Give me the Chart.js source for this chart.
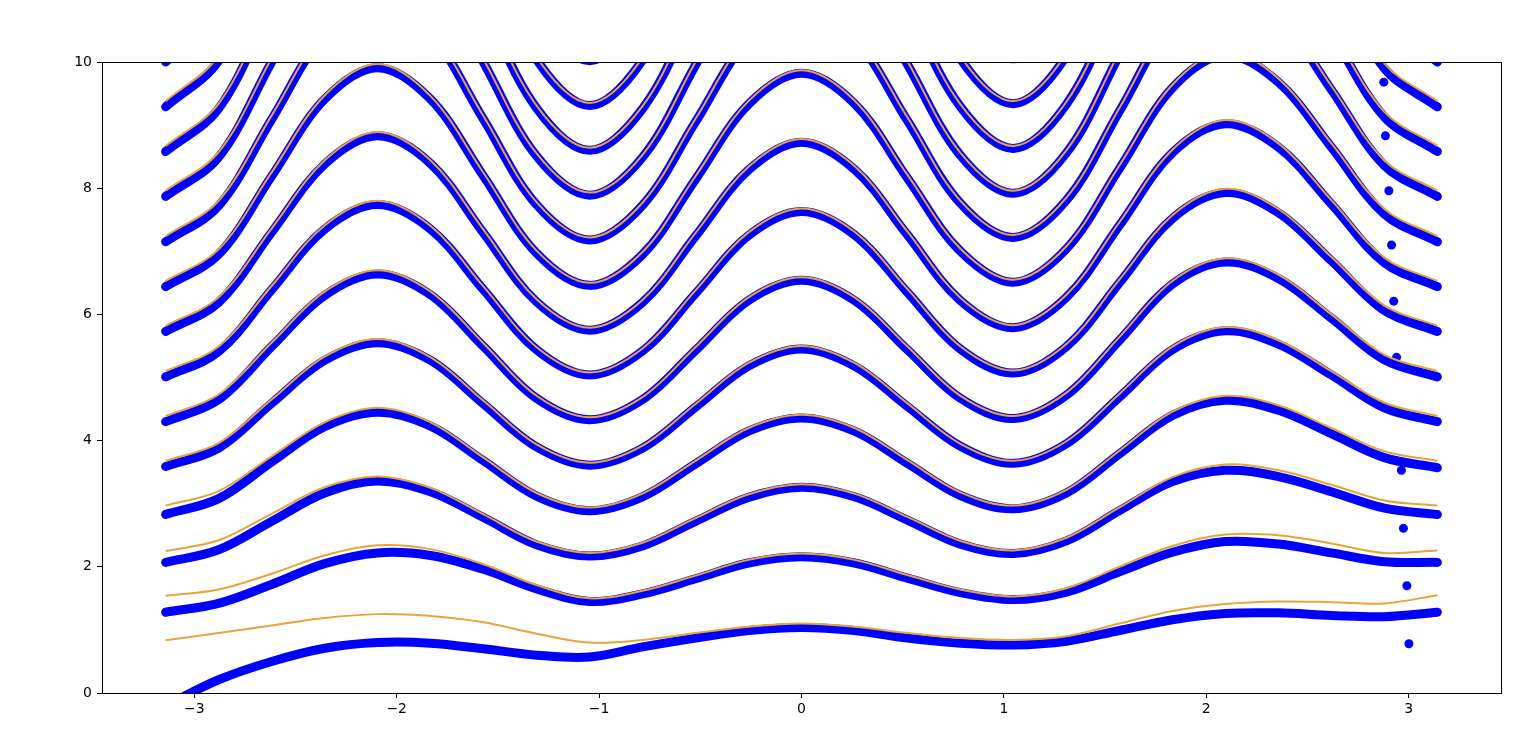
<!DOCTYPE html>
<html>
<head>
<meta charset="utf-8">
<title>Bands</title>
<script src="https://cdn.jsdelivr.net/npm/chart.js@4.4.1/dist/chart.umd.min.js"></script>
<style>
    html, body { margin: 0; padding: 0; background: #ffffff; }
    #bandChartCanvas { display: block; }
</style>
</head>
<body>
<canvas id="bandChartCanvas" width="1536" height="754"></canvas>
<script>
// _+_+_+_+_+_+_+_+_+_+ DATA _+_+_+_+_+_+_+_+_+_+

// sample positions, -pi .. pi in steps of pi/12
const xGrid = [-3.1416, -2.8798, -2.6180, -2.3562, -2.0944, -1.8326, -1.5708, -1.3090, -1.0472, -0.7854, -0.5236, -0.2618, 0,
    0.2618, 0.5236, 0.7854, 1.0472, 1.3090, 1.5708, 1.8326, 2.0944, 2.3562, 2.6180, 2.8798, 3.1416]

const xTicks = [-3, -2, -1, 0, 1, 2, 3]
const yTicks = [0, 2, 4, 6, 8, 10]

// orange lines
const orange1 = [0.835, 0.95, 1.07, 1.19, 1.25, 1.22, 1.12, 0.94, 0.80, 0.84, 0.95, 1.05, 1.10, 1.05, 0.95, 0.87, 0.84, 0.90, 1.10, 1.30, 1.41, 1.45, 1.44, 1.42, 1.55]
const orange2 = [1.54, 1.64, 1.89, 2.18, 2.34, 2.28, 2.04, 1.71, 1.50, 1.62, 1.86, 2.11, 2.21, 2.11, 1.87, 1.64, 1.53, 1.66, 2.00, 2.33, 2.51, 2.50, 2.37, 2.22, 2.26]
const orange3 = [2.25, 2.42, 2.84, 3.26, 3.43, 3.25, 2.83, 2.40, 2.22, 2.38, 2.77, 3.15, 3.31, 3.16, 2.79, 2.41, 2.26, 2.46, 2.94, 3.42, 3.62, 3.53, 3.30, 3.05, 2.97]
const orange4 = [2.97, 3.20, 3.75, 4.29, 4.52, 4.29, 3.73, 3.17, 2.94, 3.16, 3.68, 4.20, 4.41, 4.20, 3.69, 3.18, 2.97, 3.22, 3.84, 4.46, 4.71, 4.56, 4.20, 3.83, 3.68]
const orange5 = [3.68, 3.96, 4.65, 5.33, 5.61, 5.32, 4.63, 3.94, 3.65, 3.92, 4.58, 5.23, 5.50, 5.23, 4.59, 3.95, 3.68, 3.99, 4.74, 5.49, 5.80, 5.59, 5.10, 4.60, 4.39]
const orange6 = [4.39, 4.73, 5.55, 6.36, 6.70, 6.36, 5.54, 4.71, 4.37, 4.69, 5.48, 6.27, 6.59, 6.27, 5.49, 4.71, 4.39, 4.76, 5.64, 6.53, 6.89, 6.63, 6.00, 5.36, 5.10]
const orange7 = [5.10, 5.49, 6.45, 7.41, 7.80, 7.40, 6.44, 5.48, 5.08, 5.46, 6.38, 7.30, 7.68, 7.31, 6.40, 5.49, 5.11, 5.53, 6.55, 7.57, 7.99, 7.67, 6.91, 6.14, 5.82]
const orange8 = [5.82, 6.27, 7.36, 8.44, 8.89, 8.44, 7.34, 6.24, 5.79, 6.23, 7.29, 8.34, 8.78, 8.35, 7.31, 6.26, 5.83, 6.31, 7.46, 8.61, 9.08, 8.71, 7.81, 6.90, 6.53]
const orange9 = [6.53, 7.03, 8.25, 9.47, 9.97, 9.46, 8.24, 7.01, 6.50, 6.99, 8.19, 9.38, 9.87, 9.39, 8.21, 7.04, 6.55, 7.08, 8.36, 9.64, 10.17, 9.74, 8.71, 7.67, 7.24]
const orange10 = [7.24, 7.80, 9.15, 10.50, 11.06, 10.50, 9.14, 7.78, 7.22, 7.77, 9.10, 10.42, 10.97, 10.43, 9.12, 7.80, 7.26, 7.85, 9.27, 10.69, 11.27, 10.79, 9.62, 8.44, 7.96]
const orange11 = [7.96, 8.57, 10.06, 11.54, 12.15, 11.53, 10.04, 8.55, 7.93, 8.53, 10.00, 11.46, 12.06, 11.46, 10.01, 8.56, 7.96, 8.60, 10.16, 11.72, 12.36, 11.82, 10.52, 9.21, 8.67]
const orange12 = [8.67, 9.34, 10.96, 12.57, 13.24, 12.57, 10.94, 9.31, 8.64, 9.30, 10.90, 12.50, 13.16, 12.50, 10.92, 9.33, 8.67, 9.37, 11.07, 12.76, 13.46, 12.86, 11.42, 9.98, 9.38]
const orange13 = [9.38, 10.10, 11.86, 13.61, 14.33, 13.60, 11.84, 10.08, 9.35, 10.07, 11.80, 13.54, 14.25, 13.54, 11.82, 10.09, 9.38, 10.14, 11.97, 13.80, 14.55, 13.90, 12.32, 10.74, 10.09]
const orange14 = [10.09, 10.87, 12.76, 14.64, 15.42, 14.64, 12.74, 10.84, 10.06, 10.84, 12.71, 14.58, 15.35, 14.59, 12.72, 10.85, 10.09, 10.89, 12.87, 14.85, 15.64, 14.94, 13.22, 11.50, 10.80]

// blue dotted bands
const blue1 = [-0.20, 0.21, 0.50, 0.71, 0.80, 0.79, 0.70, 0.60, 0.57, 0.73, 0.87, 0.99, 1.04, 0.99, 0.87, 0.79, 0.76, 0.82, 0.99, 1.16, 1.26, 1.27, 1.23, 1.21, 1.28]
const blue2 = [1.28, 1.42, 1.72, 2.05, 2.22, 2.18, 1.96, 1.65, 1.45, 1.57, 1.81, 2.06, 2.16, 2.06, 1.82, 1.59, 1.48, 1.60, 1.92, 2.23, 2.40, 2.36, 2.22, 2.08, 2.07]
const blue3 = [2.07, 2.27, 2.72, 3.17, 3.36, 3.19, 2.78, 2.35, 2.17, 2.33, 2.72, 3.10, 3.26, 3.11, 2.74, 2.36, 2.21, 2.41, 2.89, 3.35, 3.53, 3.43, 3.19, 2.93, 2.83]
const blue4 = [2.83, 3.08, 3.66, 4.22, 4.45, 4.23, 3.68, 3.12, 2.89, 3.11, 3.63, 4.15, 4.36, 4.15, 3.64, 3.13, 2.92, 3.17, 3.79, 4.40, 4.64, 4.48, 4.11, 3.73, 3.57]
const blue5 = [3.59, 3.88, 4.59, 5.27, 5.55, 5.27, 4.58, 3.90, 3.61, 3.88, 4.53, 5.18, 5.45, 5.18, 4.54, 3.91, 3.64, 3.95, 4.69, 5.44, 5.74, 5.53, 5.04, 4.52, 4.30]
const blue6 = [4.30, 4.65, 5.49, 6.30, 6.64, 6.31, 5.49, 4.67, 4.33, 4.65, 5.43, 6.22, 6.54, 6.22, 5.44, 4.67, 4.35, 4.72, 5.59, 6.48, 6.83, 6.57, 5.94, 5.28, 5.01]
const blue7 = [5.01, 5.41, 6.39, 7.35, 7.74, 7.35, 6.39, 5.44, 5.04, 5.42, 6.33, 7.25, 7.63, 7.26, 6.35, 5.45, 5.07, 5.49, 6.50, 7.52, 7.93, 7.61, 6.85, 6.06, 5.73]
const blue8 = [5.73, 6.19, 7.30, 8.38, 8.83, 8.39, 7.29, 6.20, 5.75, 6.19, 7.24, 8.29, 8.73, 8.30, 7.26, 6.22, 5.79, 6.27, 7.41, 8.56, 9.02, 8.65, 7.75, 6.82, 6.44]
const blue9 = [6.44, 6.95, 8.19, 9.41, 9.91, 9.41, 8.19, 6.97, 6.46, 6.95, 8.14, 9.33, 9.82, 9.34, 8.16, 7.00, 6.51, 7.04, 8.31, 9.59, 10.11, 9.68, 8.65, 7.59, 7.15]
const blue10 = [7.15, 7.72, 9.09, 10.44, 11.00, 10.45, 9.09, 7.74, 7.18, 7.73, 9.05, 10.37, 10.92, 10.38, 9.07, 7.76, 7.22, 7.81, 9.22, 10.64, 11.21, 10.73, 9.56, 8.36, 7.87]
const blue11 = [7.87, 8.49, 10.00, 11.48, 12.09, 11.48, 9.99, 8.51, 7.89, 8.49, 9.95, 11.41, 12.01, 11.41, 9.96, 8.52, 7.92, 8.56, 10.11, 11.67, 12.30, 11.76, 10.46, 9.13, 8.58]
const blue12 = [8.58, 9.26, 10.90, 12.51, 13.18, 12.52, 10.89, 9.27, 8.60, 9.26, 10.85, 12.45, 13.11, 12.45, 10.87, 9.29, 8.63, 9.33, 11.02, 12.71, 13.40, 12.80, 11.36, 9.90, 9.29]
const blue13 = [9.29, 10.02, 11.80, 13.55, 14.27, 13.55, 11.79, 10.04, 9.31, 10.03, 11.75, 13.49, 14.20, 13.49, 11.77, 10.05, 9.34, 10.10, 11.92, 13.75, 14.49, 13.84, 12.26, 10.66, 10.00]
const blue14 = [10.00, 10.79, 12.70, 14.58, 15.36, 14.59, 12.69, 10.80, 10.02, 10.80, 12.66, 14.53, 15.30, 14.54, 12.67, 10.81, 10.05, 10.85, 12.82, 14.80, 15.58, 14.88, 13.16, 11.42, 10.71]

// stray dots near the right edge
const strayX = [2.877, 2.885, 2.902, 2.915, 2.926, 2.940, 2.954, 2.964, 2.974, 2.991, 3.001]
const strayY = [9.68, 8.83, 7.96, 7.10, 6.21, 5.32, 4.45, 3.53, 2.61, 1.70, 0.78]

const orangeCurves = [orange1, orange2, orange3, orange4, orange5, orange6, orange7, orange8, orange9, orange10, orange11, orange12, orange13, orange14]
const blueCurves = [blue1, blue2, blue3, blue4, blue5, blue6, blue7, blue8, blue9, blue10, blue11, blue12, blue13, blue14]

const ORANGE = '#e8a33c'
const BLUE = '#0000ff'

function toPoints(values) {
    return xGrid.map((x, i) => ({ x: x, y: values[i] }))
}

// box around the plot, like matplotlib spines
const frameBox = {
    id: 'frameBox',
    afterDraw(chart) {
        const ctx = chart.ctx
        const a = chart.chartArea
        ctx.save()
        ctx.strokeStyle = '#000000'
        ctx.lineWidth = 1
        ctx.strokeRect(Math.round(a.left) + 0.5, Math.round(a.top) + 0.5, Math.round(a.right - a.left), Math.round(a.bottom - a.top))
        ctx.restore()
    }
}

// _+_+_+_+_+_+_+_+_+_+ BUILD DATASETS _+_+_+_+_+_+_+_+_+_+
let datasets = []

orangeCurves.forEach(c => {
    datasets.push({
        data: toPoints(c),
        showLine: true,
        borderColor: ORANGE,
        borderWidth: 2,
        pointRadius: 0,
        tension: 0.35,
        clip: 0,
        order: 0
    })
})

blueCurves.forEach(c => {
    datasets.push({
        data: toPoints(c),
        showLine: true,
        borderColor: BLUE,
        borderWidth: 9,
        borderCapStyle: 'round',
        borderJoinStyle: 'round',
        pointRadius: 0,
        tension: 0.35,
        clip: 0,
        order: 1
    })
})

datasets.push({
    data: strayX.map((x, i) => ({ x: x, y: strayY[i] })),
    showLine: false,
    pointRadius: 4.5,
    pointBackgroundColor: BLUE,
    pointBorderWidth: 0,
    clip: 0,
    order: 1
})

const tickFont = { family: 'DejaVu Sans', size: 14 }

// _+_+_+_+_+_+_+_+_+_+ CHART _+_+_+_+_+_+_+_+_+_+
const bandChart = new Chart(document.getElementById('bandChartCanvas'), {
    type: 'scatter',
    data: { datasets: datasets },
    options: {
        responsive: false,
        animation: false,
        devicePixelRatio: 1,
        layout: { padding: { top: 62, right: 35, bottom: 0, left: 0 } },
        elements: { line: { capBezierPoints: false } },
        plugins: {
            legend: { display: false },
            tooltip: { enabled: false }
        },
        scales: {
            x: {
                type: 'linear',
                min: -3.456,
                max: 3.456,
                afterFit: s => { s.height = 61 },
                afterBuildTicks: s => { s.ticks = xTicks.map(v => ({ value: v })) },
                grid: { display: true, drawOnChartArea: false, drawTicks: true, tickLength: 5, tickColor: '#000000' },
                border: { display: true, color: '#000000', width: 1 },
                ticks: {
                    font: tickFont,
                    color: '#000000',
                    padding: 3,
                    maxRotation: 0,
                    callback: v => String(v).replace('-', '\u2212')
                }
            },
            y: {
                type: 'linear',
                min: 0,
                max: 10,
                afterFit: s => { s.width = 102 },
                afterBuildTicks: s => { s.ticks = yTicks.map(v => ({ value: v })) },
                grid: { display: true, drawOnChartArea: false, drawTicks: true, tickLength: 5, tickColor: '#000000' },
                border: { display: true, color: '#000000', width: 1 },
                ticks: {
                    font: tickFont,
                    color: '#000000',
                    padding: 5,
                    callback: v => String(v)
                }
            }
        }
    },
    plugins: [frameBox]
})
</script>
</body>
</html>
